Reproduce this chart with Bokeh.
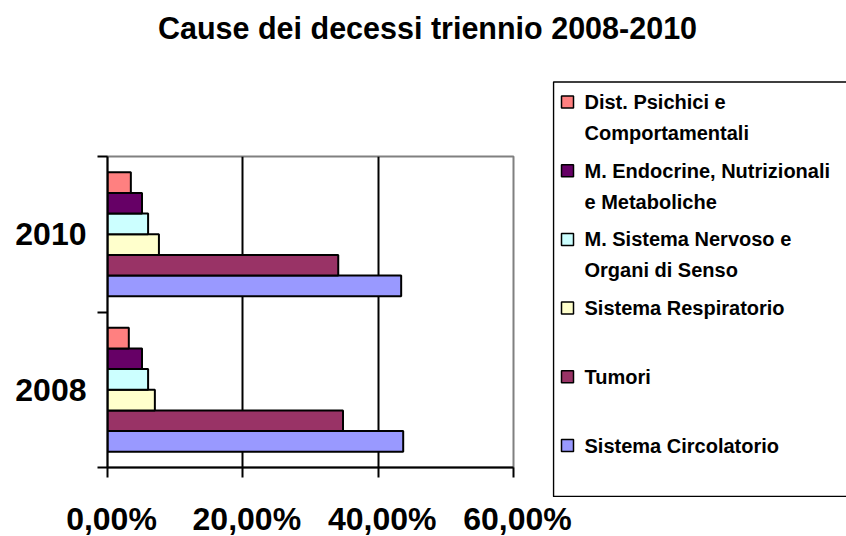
from bokeh.plotting import figure
from bokeh.models import Range1d, FixedTicker
from bokeh.layouts import column, row
from bokeh.core.properties import value
from bokeh.embed import file_html
from bokeh.resources import INLINE

# ---------------- data ----------------
years = ["2008", "2010"]
series = [
    "Sistema Circolatorio",
    "Tumori",
    "Sistema Respiratorio",
    "M. Sistema Nervoso e Organi di Senso",
    "M. Endocrine, Nutrizionali e Metaboliche",
    "Dist. Psichici e Comportamentali",
]
legend_lines = [
    ["Sistema Circolatorio"],
    ["Tumori"],
    ["Sistema Respiratorio"],
    ["M. Sistema Nervoso e", "Organi di Senso"],
    ["M. Endocrine, Nutrizionali", "e Metaboliche"],
    ["Dist. Psichici e", "Comportamentali"],
]
circolatorio = [43.7, 43.4]
tumori = [34.8, 34.1]
respiratorio = [7.0, 7.6]
nervoso = [6.0, 6.0]
endocrine = [5.1, 5.1]
psichici = [3.15, 3.45]
values = [circolatorio, tumori, respiratorio, nervoso, endocrine, psichici]
colors = ["#9999FF", "#993366", "#FFFFCC", "#CCFFFF", "#660066", "#FF8080"]
x_ticks = [0, 20, 40, 60]
x_tick_labels = ["0,00%", "20,00%", "40,00%", "60,00%"]
title_text = "Cause dei decessi triennio 2008-2010"

FONT = "Liberation Sans"
W, H = 846, 536
TH = 70                 # title strip height
BH = 39                 # bottom strip (x tick labels) height
PH = H - TH - BH        # middle row height
MW = 552                # main plot width
LW = W - MW             # legend strip width
ML, MT = 107, 86
FW, FH = 406, 311       # plot frame size
X0, X1 = 0, 60          # value axis range (percent)


def blank(width, height, x_range=None):
    f = figure(width=width, height=height, output_backend="svg",
               toolbar_location=None, x_axis_location=None,
               y_axis_location=None, min_border=0,
               x_range=x_range if x_range is not None else Range1d(0, width),
               y_range=Range1d(height, 0))
    f.outline_line_color = None
    f.grid.visible = False
    f.background_fill_color = "white"
    f.border_fill_color = "white"
    return f


# ---------------- title strip ----------------
pt = blank(W, TH)
pt.text(x=[427], y=[27], text=[title_text], text_font=value(FONT),
        text_font_style="bold", text_font_size=value("30.5px"),
        text_align="center", text_baseline="middle", text_color="black")

# ---------------- main chart ----------------
p = figure(width=MW, height=PH, output_backend="svg", toolbar_location=None,
           x_range=Range1d(X0, X1), y_range=Range1d(-0.5, len(years) - 0.5),
           min_border_left=ML, min_border_right=MW - ML - FW,
           min_border_top=MT, min_border_bottom=PH - MT - FH)
p.background_fill_color = "white"
p.border_fill_color = "white"
p.outline_line_color = "#808080"
p.outline_line_width = 2

bh = 0.133
n = len(series)
for i, (vals, col) in enumerate(zip(values, colors)):
    ys = [j + (i - (n - 1) / 2) * bh for j in range(len(years))]
    p.hbar(y=ys, left=0, right=vals, height=bh, fill_color=col,
           line_color="black", line_width=2)

# x axis: only tick marks here (labels are in the full-width strip below)
p.xaxis.ticker = FixedTicker(ticks=[], minor_ticks=x_ticks)
p.xaxis.major_tick_line_color = None
p.xaxis.minor_tick_out = 10
p.xaxis.minor_tick_in = 0
p.xaxis.minor_tick_line_width = 2
p.xaxis.minor_tick_line_color = "black"
p.xaxis.axis_line_width = 2
p.xaxis.major_label_standoff = 0

yt = list(range(len(years)))
p.yaxis.ticker = FixedTicker(ticks=yt, minor_ticks=[j - 0.5 for j in range(len(years) + 1)])
p.yaxis.major_label_overrides = {j: y for j, y in zip(yt, years)}
p.yaxis.major_tick_line_color = None
p.yaxis.major_tick_out = 0
p.yaxis.major_tick_in = 0
p.yaxis.minor_tick_out = 10
p.yaxis.minor_tick_in = 0
p.yaxis.minor_tick_line_width = 2
p.yaxis.minor_tick_line_color = "black"
p.yaxis.axis_line_width = 2
p.yaxis.major_label_text_font = FONT
p.yaxis.major_label_text_font_style = "bold"
p.yaxis.major_label_text_font_size = "32px"
p.yaxis.major_label_text_color = "black"
p.yaxis.major_label_standoff = 11

p.xgrid.ticker = FixedTicker(ticks=[20, 40])
p.xgrid.grid_line_color = "black"
p.xgrid.grid_line_width = 2
p.ygrid.grid_line_color = None

# ---------------- x tick labels strip ----------------
# full-width strip whose x scale continues the plot's value scale
ppx = (X1 - X0) / FW
pb = blank(W, BH, x_range=Range1d(X0 - ML * ppx, X0 + (W - ML) * ppx))
pb.text(x=x_ticks, y=[21] * len(x_ticks), text=x_tick_labels,
        text_font=value(FONT), text_font_style="bold",
        text_font_size=value("32px"), text_align="center",
        text_baseline="middle", text_color="black", x_offset=4)

# ---------------- legend strip ----------------
pl = blank(LW, PH)
pl.quad(left=[1], right=[LW + 20], top=[11.5], bottom=[PH - 1],
        fill_color=None, line_color="black", line_width=1.5)
first_y, step, line_gap = 31.5, 68.7, 31
sq_left, sq_size, text_x = 9, 12, 32
sq_l, sq_r, sq_t, sq_b, sq_c = [], [], [], [], []
tx, ty, tt = [], [], []
for k, idx in enumerate(reversed(range(n))):
    cy = first_y + k * step
    sq_l.append(sq_left)
    sq_r.append(sq_left + sq_size)
    sq_t.append(cy - sq_size / 2)
    sq_b.append(cy + sq_size / 2)
    sq_c.append(colors[idx])
    for li, line in enumerate(legend_lines[idx]):
        tx.append(text_x)
        ty.append(cy + li * line_gap)
        tt.append(line)
pl.quad(left=sq_l, right=sq_r, top=sq_t, bottom=sq_b, fill_color=sq_c,
        line_color="black", line_width=1.5)
pl.text(x=tx, y=ty, text=tt, text_font=value(FONT), text_font_style="bold",
        text_font_size=value("20px"), text_align="left",
        text_baseline="middle", text_color="black")

layout = column(row(pt), row(column(p), column(pl)), row(pb))
open("out.html", "w").write(file_html(layout, INLINE))
